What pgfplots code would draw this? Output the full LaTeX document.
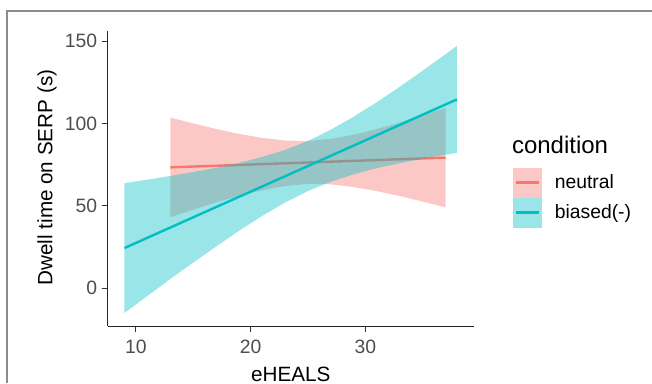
\documentclass[border=0pt]{standalone}
\usepackage{pgfplots}
\pgfplotsset{compat=1.18}
\usepackage{fontspec}
\setmainfont{Liberation Sans}
\definecolor{cneu}{HTML}{F8766D}
\definecolor{cbia}{HTML}{00BFC4}
\definecolor{tickgrey}{HTML}{4D4D4D}
\definecolor{framegrey}{HTML}{8C8C8C}
\begin{document}
\begin{tikzpicture}
\path[use as bounding box] (0,0) rectangle (489pt,287.25pt);
\draw[framegrey, line width=1.1pt] (5.25pt,0) -- (5.25pt,279pt) -- (489pt,279pt);
\begin{axis}[
  at={(80.9pt,42.45pt)}, anchor=south west,
  scale only axis, width=274.3pt, height=221.9pt,
  xmin=7.55, xmax=39.45, ymin=-23.3, ymax=156.4,
  axis lines=left, axis line style={-, black!85, line width=0.9pt},
  xtick={10,20,30}, ytick={0,50,100,150},
  tick align=outside, major tick length=4.5pt,
  tick style={black!80, line width=0.8pt},
  /pgf/number format/assume math mode=true,
  ticklabel style={font=\fontsize{14.5pt}{16pt}\selectfont, text=tickgrey},
  xticklabel style={yshift=-2pt},
  xlabel={eHEALS}, ylabel={Dwell time on SERP (s)},
  label style={font=\fontsize{15.5pt}{18pt}\selectfont},
  xlabel style={at={(axis description cs:0.5,-0.1863)}, anchor=base},
  ylabel style={at={(axis description cs:-0.1664,0.503)}, anchor=center},
  clip=false,
  legend style={at={(1.1065,0.5378)}, anchor=north west, draw=none, fill=none,
    inner sep=0pt, row sep=0pt, font=\fontsize{14.5pt}{16pt}\selectfont,
    nodes={inner sep=0pt, anchor=west}},
  legend cell align=left,
]
% neutral ribbon and line
\addplot[draw=none, fill=cneu, fill opacity=0.4, forget plot] coordinates {
(13,103.5) (15,100.0) (17,96.6) (19,93.6) (21,91.2) (23,89.6) (25,89.3) (27,90.6) (29,93.1) (31,96.5) (33,100.5) (35,104.9) (37,109.4)
(37,49.0) (35,52.5) (33,55.9) (31,58.9) (29,61.3) (27,63.0) (25,63.3) (23,62.0) (21,59.4) (19,56.0) (17,52.0) (15,47.6) (13,43.1)
};
\addplot[cneu, line width=1.8pt, forget plot] coordinates {(13,73.3) (37,79.2)};
% biased ribbon and line
\addplot[draw=none, fill=cbia, fill opacity=0.4, forget plot] coordinates {
(9,63.7) (11,65.8) (13,68.1) (15,70.5) (17,73.1) (19,76.0) (21,79.6) (23,83.9) (25,89.3) (27,96.2) (29,104.1) (31,112.8) (33,122.2) (35,132.0) (37,142.0) (38,147.1)
(38,82.1) (37,81.0) (35,78.6) (33,75.8) (31,72.8) (29,69.1) (27,64.6) (25,58.9) (23,51.9) (21,43.8) (19,34.8) (17,25.3) (15,15.5) (13,5.5) (11,-4.8) (9,-15.1)
};
\addplot[cbia, line width=1.8pt, forget plot] coordinates {(9,24.3) (38,114.6)};
% legend
\addlegendimage{legend image code/.code={
  \fill[cneu!40, draw=none] (0pt,-11.25pt) rectangle (21.75pt,11.25pt);
  \draw[cneu, line width=1.8pt] (2.25pt,0pt) -- (19.5pt,0pt);
  \path[draw=none, fill=none] (0pt,0pt) rectangle (31.5pt,0.1pt);}}
\addlegendentry{neutral}
\addlegendimage{legend image code/.code={
  \fill[cbia!40, draw=none] (0pt,-11.25pt) rectangle (21.75pt,11.25pt);
  \draw[cbia, line width=1.8pt] (2.25pt,0pt) -- (19.5pt,0pt);
  \path[draw=none, fill=none] (0pt,0pt) rectangle (31.5pt,0.1pt);}}
\addlegendentry{biased(-)}
\end{axis}
\node[anchor=base west, inner sep=0pt, font=\fontsize{18pt}{20pt}\selectfont] at (383.8pt,172.5pt) {condition};
\end{tikzpicture}
\end{document}
